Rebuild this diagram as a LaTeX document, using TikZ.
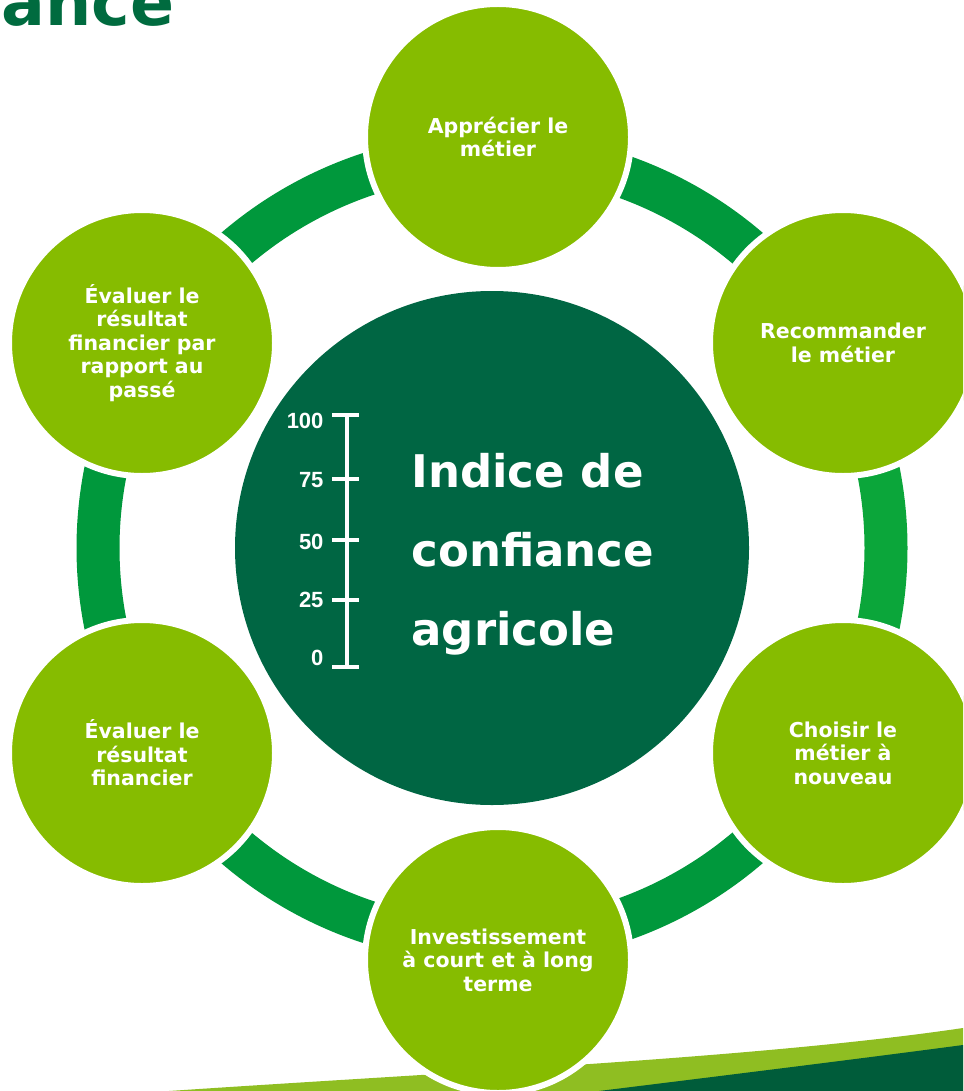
\documentclass[tikz,border=0pt]{standalone}
\usepackage{fontspec}
\setmainfont{DejaVu Sans}
\newfontfamily\numfont{Liberation Sans}
\usetikzlibrary{positioning}
\definecolor{leaf}{HTML}{86BC00}
\definecolor{forest}{HTML}{006643}
\definecolor{ringgreen}{HTML}{00983C}
\definecolor{ringlight}{HTML}{0BA63A}
\definecolor{titlegreen}{HTML}{006B3F}
\definecolor{swooshlight}{HTML}{8FBE22}
\definecolor{swooshdark}{HTML}{005C3A}
\tikzstyle{stage}=[circle, fill=leaf, draw=white, line width=6pt, minimum size=266pt, inner sep=0pt, align=center, text=white, font={\fontsize{20.5}{23.5}\selectfont\bfseries}]
\tikzstyle{hub}=[circle, fill=forest, minimum size=514pt, inner sep=0pt]
\tikzstyle{seg}=[line width=43pt]
\tikzstyle{tick}=[white, line width=4pt]

\begin{document}
\begin{tikzpicture}[x=1pt,y=1pt,on grid]
  \useasboundingbox (0,0) rectangle (963,-1091);
  \clip (0,0) rectangle (963,-1091);

  \node [hub] (c) at (492,-548) {};

  % ring between the stages
  \draw[seg, ringgreen] (c.center) ++(90:394) arc[start angle=90, end angle=30, radius=394];
  \draw[seg, ringlight] (c.center) ++(30:394) arc[start angle=30, end angle=-30, radius=394];
  \draw[seg, ringgreen] (c.center) ++(-30:394) arc[start angle=-30, end angle=-90, radius=394];
  \draw[seg, ringgreen] (c.center) ++(-90:394) arc[start angle=-90, end angle=-150, radius=394];
  \draw[seg, ringgreen] (c.center) ++(-150:394) arc[start angle=-150, end angle=-210, radius=394];
  \draw[seg, ringgreen] (c.center) ++(150:394) arc[start angle=150, end angle=90, radius=394];

  % swoosh at the foot of the page
  \fill[swooshlight] (169,-1091) .. controls (450,-1072) and (760,-1058) .. (963,-1028) -- (963,-1091) -- cycle;
  \fill[swooshdark] (599,-1091) .. controls (720,-1076) and (850,-1060) .. (963,-1045) -- (963,-1091) -- cycle;

  \node [stage, above=411pt of c, xshift=6pt] (a) {Apprécier le\\métier};
  \node [stage, above right=205pt and 351pt of c] (b) {Recommander\\le métier};
  \node [stage, below right=205pt and 351pt of c] (d) {Choisir le\\métier à\\nouveau};
  \node [stage, below=412pt of c, xshift=6pt] (e) {Investissement\\à court et à long\\terme};
  \node [stage, below left=205pt and 350pt of c] (f) {Évaluer le\\résultat\\financier};
  \node [stage, above left=205pt and 350pt of c] (g) {Évaluer le\\résultat\\financier par\\rapport au\\passé};

  \node [anchor=west, text=white, align=left, font={\fontsize{45}{79}\selectfont\bfseries}] (t) at (408,-554) {Indice de\\confiance\\agricole};

  % scale 0-100
  \coordinate (s0) at (347,-667);
  \coordinate (s1) at (347,-415);
  \draw[tick] (s0) -- (s1);
  \foreach \y/\v/\ly in {415/100/421, 479/75/480, 540/50/542, 600/25/600, 667/0/658} {
    \draw[tick] (332,-\y) -- (359,-\y);
    \node[anchor=east, text=white, font={\numfont\fontsize{22}{24}\selectfont\bfseries}] (n\v) at (327,-\ly) {\v};
  }

  \node [anchor=base east, text=titlegreen, font={\fontsize{65}{70}\selectfont\bfseries}] (h) at (178,-26) {ance};
\end{tikzpicture}
\end{document}
